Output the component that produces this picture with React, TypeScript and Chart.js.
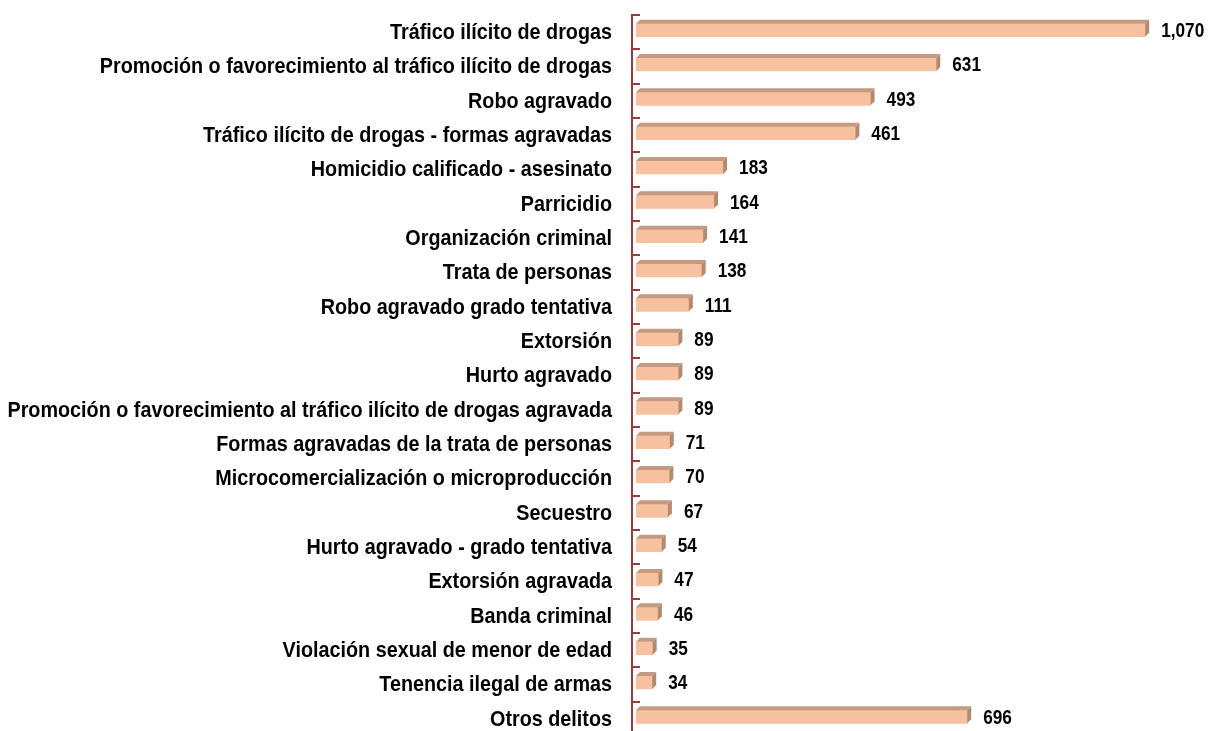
import React, { useEffect, useRef } from "react";
import { Chart, registerables } from "chart.js";

Chart.register(...registerables);

const categories = [
  "Tráfico ilícito de drogas",
  "Promoción o favorecimiento al tráfico ilícito de drogas",
  "Robo agravado",
  "Tráfico ilícito de drogas - formas agravadas",
  "Homicidio calificado - asesinato",
  "Parricidio",
  "Organización criminal",
  "Trata de personas",
  "Robo agravado grado tentativa",
  "Extorsión",
  "Hurto agravado",
  "Promoción o favorecimiento al tráfico ilícito de drogas agravada",
  "Formas agravadas de la trata de personas",
  "Microcomercialización o microproducción",
  "Secuestro",
  "Hurto agravado - grado tentativa",
  "Extorsión agravada",
  "Banda criminal",
  "Violación sexual de menor de edad",
  "Tenencia ilegal de armas",
  "Otros delitos",
];

const values = [1070, 631, 493, 461, 183, 164, 141, 138, 111, 89, 89, 89, 71, 70, 67, 54, 47, 46, 35, 34, 696];

const FONT_FAMILY = "'Liberation Sans', Arial, sans-serif";
const LABEL_NARROW = 0.92;
const VALUE_NARROW = 0.82;
const FRONT = "#F7C19F";
const TOP = "#C49A80";
const SIDE = "#B38A6E";
const AXIS = "#9B3B3B";
const DEPTH = 4;

const bar3d = {
  id: "bar3d",
  beforeDatasetsDraw(chart: any) {
    const ctx = chart.ctx;
    const y = chart.scales.y;
    const axisX = chart.chartArea.left - 5;
    const topB = y.getPixelForValue(-0.5) + 2;
    ctx.save();
    ctx.fillStyle = AXIS;
    ctx.fillRect(axisX, topB, 2, chart.height - topB);
    for (let i = 0; i <= categories.length; i++) {
      const py = Math.round(y.getPixelForValue(i - 0.5) + 2);
      ctx.fillRect(axisX, py - 1, 9, 2);
    }
    ctx.restore();
  },
  afterDatasetsDraw(chart: any) {
    const ctx = chart.ctx;
    const meta = chart.getDatasetMeta(0);
    ctx.save();
    meta.data.forEach((el: any, i: number) => {
      const p = el.getProps(["x", "y", "base", "height"], true);
      const x0 = p.base;
      const x1 = p.x;
      const yT = p.y - p.height / 2;
      const yB = p.y + p.height / 2;
      ctx.fillStyle = TOP;
      ctx.beginPath();
      ctx.moveTo(x0, yT);
      ctx.lineTo(x0 + DEPTH, yT - DEPTH);
      ctx.lineTo(x1 + DEPTH, yT - DEPTH);
      ctx.lineTo(x1, yT);
      ctx.closePath();
      ctx.fill();
      ctx.fillStyle = SIDE;
      ctx.beginPath();
      ctx.moveTo(x1, yT);
      ctx.lineTo(x1 + DEPTH, yT - DEPTH);
      ctx.lineTo(x1 + DEPTH, yB - DEPTH);
      ctx.lineTo(x1, yB);
      ctx.closePath();
      ctx.fill();
      ctx.save();
      ctx.translate(x1 + 16, p.y + 1);
      ctx.scale(VALUE_NARROW, 1);
      ctx.fillStyle = "#000";
      ctx.font = `bold 21px ${FONT_FAMILY}`;
      ctx.textAlign = "left";
      ctx.textBaseline = "middle";
      ctx.fillText(values[i].toLocaleString("en-US"), 0, 0);
      ctx.restore();
    });
    ctx.restore();
  },
};

export default function App() {
  const ref = useRef<HTMLCanvasElement | null>(null);
  useEffect(() => {
    if (!ref.current) return;
    const chart = new Chart(ref.current, {
      type: "bar",
      data: {
        labels: categories,
        datasets: [
          {
            data: values,
            backgroundColor: FRONT,
            borderWidth: 0,
            barThickness: 13,
          },
        ],
      },
      options: {
        indexAxis: "y",
        animation: false,
        responsive: true,
        maintainAspectRatio: false,
        layout: { padding: { top: 13, bottom: 3, left: 0, right: 4 } },
        plugins: { legend: { display: false }, tooltip: { enabled: false } },
        scales: {
          x: { display: false, min: 0, max: 1200 },
          y: {
            grid: { display: false, drawTicks: false },
            border: { display: false },
            afterFit: (s: any) => {
              s.width = 636;
              s.paddingTop = 0;
              s.paddingBottom = 0;
              if (!s._narrowPatched) {
                s._narrowPatched = true;
                s._computeLabelArea = () => undefined;
                const orig = s.drawLabels;
                s.drawLabels = function (area: any) {
                  const c = this.ctx;
                  const ax = this.right - 24;
                  c.save();
                  c.translate(ax, 0);
                  c.scale(LABEL_NARROW, 1);
                  c.translate(-ax, 0);
                  orig.call(this, area);
                  c.restore();
                };
              }
            },
            ticks: {
              autoSkip: false,
              color: "#000",
              padding: 24,
              labelOffset: 3,
              font: { family: FONT_FAMILY, size: 21.5, weight: "bold" },
            },
          },
        },
      },
      plugins: [bar3d],
    } as any);
    return () => chart.destroy();
  }, []);
  return (
    <div style={{ position: "fixed", left: 0, top: 0, width: 1211, height: 731, overflow: "hidden", background: "#fff" }}>
      <div style={{ position: "relative", width: 1211, height: 737 }}>
        <canvas ref={ref} />
      </div>
    </div>
  );
}
